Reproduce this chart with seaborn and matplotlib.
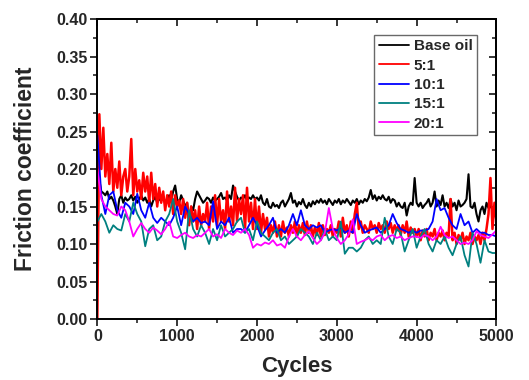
import numpy as np
import pandas as pd
import seaborn as sns
import matplotlib.pyplot as plt
from matplotlib.ticker import MultipleLocator

# cycles grids
cycles_fine = np.arange(0, 5001, 25)
cycles = np.arange(0, 5001, 50)

base_oil = [
    0.18, 0.185, 0.17, 0.168, 0.165, 0.17, 0.16, 0.163,
    0.158, 0.15, 0.14, 0.16, 0.165, 0.155, 0.162, 0.158,
    0.16, 0.165, 0.158, 0.163, 0.155, 0.16, 0.165, 0.158,
    0.162, 0.155, 0.16, 0.15, 0.158, 0.163, 0.155, 0.16,
    0.158, 0.162, 0.155, 0.16, 0.165, 0.158, 0.17, 0.178,
    0.16, 0.155, 0.165, 0.158, 0.15, 0.155, 0.13, 0.15,
    0.145, 0.16, 0.17, 0.165, 0.16, 0.155, 0.158, 0.162,
    0.16, 0.155, 0.162, 0.158, 0.16, 0.163, 0.168, 0.16,
    0.162, 0.158, 0.165, 0.16, 0.178, 0.17, 0.163, 0.158,
    0.162, 0.16, 0.165, 0.158, 0.162, 0.16, 0.165, 0.16,
    0.162, 0.158, 0.165, 0.155, 0.152, 0.16, 0.15, 0.148,
    0.155, 0.15, 0.152, 0.148, 0.155, 0.158, 0.15, 0.155,
    0.16, 0.168, 0.155, 0.158, 0.15, 0.156, 0.153, 0.16,
    0.152, 0.148, 0.155, 0.15, 0.157, 0.153, 0.158, 0.155,
    0.16, 0.155, 0.158, 0.153, 0.16, 0.156, 0.152, 0.158,
    0.155, 0.16, 0.153, 0.158, 0.155, 0.16, 0.156, 0.152,
    0.158, 0.155, 0.16, 0.153, 0.158, 0.155, 0.16, 0.157,
    0.162, 0.172, 0.16, 0.165, 0.158, 0.163, 0.16, 0.165,
    0.16, 0.158, 0.163, 0.155, 0.16, 0.158, 0.15, 0.155,
    0.15, 0.148, 0.155, 0.138, 0.15, 0.155, 0.152, 0.188,
    0.155, 0.15, 0.155, 0.148, 0.152, 0.155, 0.16, 0.15,
    0.155, 0.17, 0.15, 0.158, 0.152, 0.165, 0.15, 0.155,
    0.148, 0.16, 0.15, 0.155, 0.145, 0.158, 0.15, 0.152,
    0.155, 0.16, 0.193, 0.15, 0.148, 0.155, 0.14, 0.13,
    0.145, 0.15, 0.14, 0.155, 0.148, 0.152, 0.145, 0.15,
    0.148,
]

ratio_5 = [
    0.0, 0.273, 0.2, 0.255, 0.19, 0.22, 0.18, 0.235,
    0.17, 0.2, 0.175, 0.21, 0.165, 0.19, 0.2, 0.17,
    0.19, 0.24, 0.165, 0.2, 0.17, 0.185, 0.16, 0.195,
    0.17, 0.19, 0.155, 0.195, 0.16, 0.18, 0.15, 0.175,
    0.155, 0.17, 0.145, 0.165, 0.15, 0.17, 0.14, 0.165,
    0.15, 0.158, 0.14, 0.16, 0.135, 0.155, 0.125, 0.15,
    0.13, 0.145, 0.12, 0.15, 0.125, 0.14, 0.13, 0.155,
    0.12, 0.15, 0.13, 0.165, 0.125, 0.16, 0.13, 0.145,
    0.12, 0.17, 0.13, 0.15, 0.125, 0.175, 0.13, 0.16,
    0.14, 0.165, 0.12, 0.175, 0.13, 0.155, 0.12, 0.16,
    0.12, 0.15, 0.115, 0.14, 0.12, 0.135, 0.11, 0.125,
    0.115, 0.13, 0.11, 0.125, 0.11, 0.13, 0.115, 0.122,
    0.11, 0.125, 0.115, 0.13, 0.11, 0.125, 0.115, 0.128,
    0.112, 0.13, 0.115, 0.125, 0.11, 0.122, 0.112, 0.128,
    0.11, 0.125, 0.112, 0.12, 0.115, 0.125, 0.11, 0.12,
    0.115, 0.13, 0.11, 0.135, 0.115, 0.125, 0.11, 0.13,
    0.115, 0.14, 0.155, 0.12, 0.13, 0.115, 0.125, 0.12,
    0.115, 0.13, 0.12, 0.125, 0.115, 0.128, 0.12, 0.125,
    0.115, 0.13, 0.12, 0.128, 0.115, 0.125, 0.118, 0.125,
    0.112, 0.125, 0.115, 0.13, 0.11, 0.122, 0.115, 0.12,
    0.11, 0.12, 0.105, 0.118, 0.11, 0.12, 0.105, 0.115,
    0.11, 0.12, 0.105, 0.115, 0.11, 0.118, 0.105, 0.115,
    0.11, 0.16, 0.105, 0.115, 0.1, 0.112, 0.105, 0.115,
    0.1, 0.11, 0.105, 0.115, 0.1, 0.11, 0.105, 0.112,
    0.1, 0.115, 0.105, 0.12, 0.14, 0.188, 0.12, 0.155,
    0.13,
]

ratio_10 = [
    0.245, 0.165, 0.14, 0.165, 0.17, 0.145, 0.135, 0.155, 0.15, 0.14,
    0.167, 0.145, 0.135, 0.155, 0.135, 0.128, 0.135, 0.13, 0.125, 0.135,
    0.15, 0.125, 0.15, 0.14, 0.13, 0.135, 0.128, 0.13, 0.125, 0.157,
    0.12, 0.13, 0.125, 0.135, 0.115, 0.12, 0.12, 0.115, 0.125, 0.135,
    0.125, 0.11, 0.118, 0.125, 0.135, 0.115, 0.12, 0.115, 0.125, 0.14,
    0.125, 0.145, 0.125, 0.12, 0.125, 0.122, 0.125, 0.115, 0.118, 0.12,
    0.118, 0.122, 0.115, 0.118, 0.115, 0.14, 0.125, 0.115, 0.118, 0.12,
    0.122, 0.115, 0.12, 0.125, 0.14, 0.128, 0.12, 0.118, 0.115, 0.118,
    0.115, 0.118, 0.118, 0.12, 0.13, 0.16, 0.145, 0.148, 0.135, 0.125,
    0.12, 0.14, 0.125, 0.13, 0.115, 0.12, 0.115, 0.115, 0.112, 0.112,
    0.11,
]

ratio_15 = [
    0.13, 0.14, 0.13, 0.115, 0.125, 0.12, 0.118, 0.14, 0.13, 0.155,
    0.14, 0.13, 0.097, 0.12, 0.125, 0.105, 0.11, 0.13, 0.14, 0.16,
    0.13, 0.115, 0.093, 0.145, 0.12, 0.11, 0.125, 0.115, 0.1, 0.12,
    0.105, 0.125, 0.11, 0.115, 0.12, 0.13, 0.135, 0.115, 0.12, 0.105,
    0.13, 0.115, 0.11, 0.105, 0.115, 0.12, 0.105, 0.11, 0.1, 0.105,
    0.11, 0.12, 0.115, 0.11, 0.1, 0.115, 0.105, 0.12, 0.105, 0.11,
    0.105, 0.13, 0.087, 0.095, 0.095, 0.09, 0.095, 0.105, 0.11, 0.1,
    0.105, 0.1, 0.135, 0.11, 0.1, 0.12, 0.115, 0.09, 0.105, 0.12,
    0.095, 0.11, 0.12, 0.1, 0.09, 0.105, 0.1, 0.11, 0.095, 0.085,
    0.1, 0.11, 0.085, 0.07, 0.115, 0.1, 0.075, 0.105, 0.09, 0.088,
    0.088,
]

ratio_20 = [
    0.2, 0.16, 0.15, 0.145, 0.14, 0.138, 0.15, 0.145, 0.13, 0.11,
    0.12, 0.128, 0.12, 0.115, 0.122, 0.118, 0.113, 0.12, 0.13, 0.11,
    0.108, 0.112, 0.115, 0.11, 0.108, 0.112, 0.11, 0.115, 0.12, 0.11,
    0.113, 0.108, 0.12, 0.115, 0.112, 0.118, 0.115, 0.12, 0.112, 0.095,
    0.1, 0.098, 0.102, 0.1, 0.105, 0.098, 0.1, 0.095, 0.11, 0.12,
    0.11, 0.105, 0.112, 0.117, 0.108, 0.1, 0.105, 0.115, 0.148, 0.12,
    0.108, 0.1, 0.105, 0.113, 0.133, 0.1, 0.103, 0.105, 0.108, 0.105,
    0.11, 0.112, 0.105, 0.11, 0.112, 0.108, 0.11, 0.105, 0.108, 0.11,
    0.11, 0.108, 0.112, 0.11, 0.105, 0.11, 0.123, 0.112, 0.108, 0.11,
    0.105, 0.1, 0.102, 0.1, 0.105, 0.117, 0.112, 0.11, 0.108, 0.113,
    0.118,
]

series = [
    ('Base oil', cycles_fine, base_oil, 'black', 1.5),
    ('5:1', cycles_fine, ratio_5, '#ff0000', 1.8),
    ('10:1', cycles, ratio_10, '#0000ff', 1.3),
    ('15:1', cycles, ratio_15, '#008080', 1.3),
    ('20:1', cycles, ratio_20, '#ff00ff', 1.3),
]

sns.set_style('ticks')
plt.rcParams['font.family'] = ['Liberation Sans', 'DejaVu Sans']
plt.rcParams['font.weight'] = 'bold'

fig = plt.figure(figsize=(5.29, 3.80), dpi=100)
ax = fig.add_axes([0.184, 0.1605, 0.7545, 0.7895])

for name, x, y, color, lw in series:
    df = pd.DataFrame({'Cycles': x, 'Friction coefficient': y})
    sns.lineplot(data=df, x='Cycles', y='Friction coefficient', ax=ax,
                 color=color, linewidth=lw, label=name)

ax.set_xlim(0, 5000)
ax.set_ylim(0, 0.40)
ax.xaxis.set_major_locator(MultipleLocator(1000))
ax.xaxis.set_minor_locator(MultipleLocator(500))
ax.yaxis.set_major_locator(MultipleLocator(0.05))
ax.yaxis.set_minor_locator(MultipleLocator(0.025))
ax.yaxis.set_major_formatter(plt.FormatStrFormatter('%.2f'))

for s in ax.spines.values():
    s.set_linewidth(1.4)
    s.set_color('black')
    s.set_visible(True)

ax.tick_params(which='major', direction='out', length=5, width=1.3,
               labelsize=11.5, pad=2)
ax.tick_params(which='minor', direction='out', length=3, width=1.2)
for lab in ax.get_xticklabels() + ax.get_yticklabels():
    lab.set_fontweight('bold')

# inward ticks on top and right, Origin style
top = ax.secondary_xaxis('top')
top.xaxis.set_major_locator(MultipleLocator(1000))
top.xaxis.set_minor_locator(MultipleLocator(500))
top.tick_params(which='major', direction='in', length=5, width=1.3, labeltop=False)
top.tick_params(which='minor', direction='in', length=3, width=1.2)
top.spines['top'].set_linewidth(1.4)
right = ax.secondary_yaxis('right')
right.yaxis.set_major_locator(MultipleLocator(0.05))
right.yaxis.set_minor_locator(MultipleLocator(0.025))
right.tick_params(which='major', direction='in', length=5, width=1.3, labelright=False)
right.tick_params(which='minor', direction='in', length=3, width=1.2)
right.spines['right'].set_linewidth(1.4)

ax.set_xlabel('Cycles', fontsize=16, fontweight='bold', labelpad=9)
ax.set_ylabel('Friction coefficient', fontsize=16.5, fontweight='bold', labelpad=14)

leg = ax.legend(loc='upper right', bbox_to_anchor=(0.952, 0.948), fontsize=11,
                frameon=True, fancybox=False, handlelength=2.0, handletextpad=0.3,
                borderpad=0.3, labelspacing=0.35, borderaxespad=0)
leg.get_frame().set_edgecolor('#444444')
leg.get_frame().set_linewidth(1.0)
for t in leg.get_texts():
    t.set_fontweight('bold')
for h in leg.get_lines():
    h.set_linewidth(1.3)

fig.savefig('out.png', dpi=100)
